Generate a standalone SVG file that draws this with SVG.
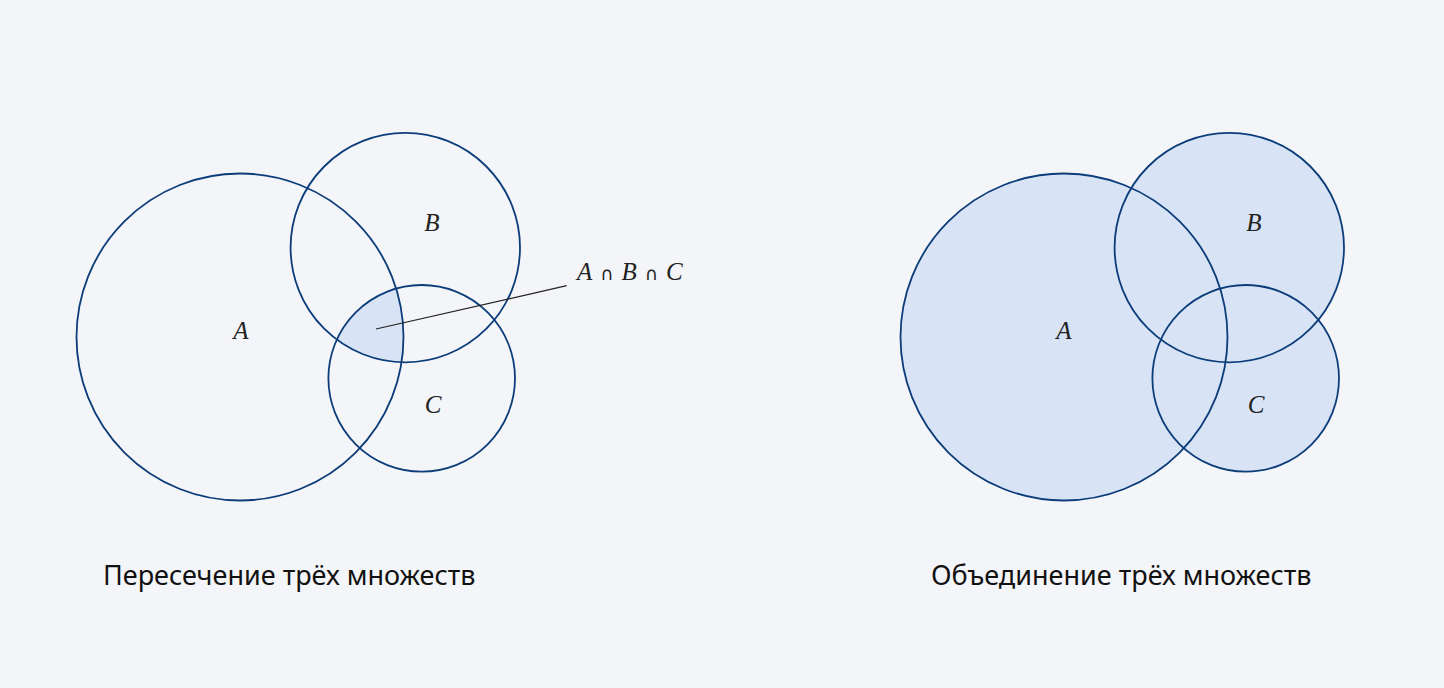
<svg xmlns="http://www.w3.org/2000/svg" width="1444" height="688" viewBox="0 0 1444 688">
<style>
.ring{fill:none;stroke:#0c3d7a;stroke-width:1.8}
.fill{fill:#d8e3f5;stroke:none}
.m{font-family:"Liberation Serif",serif;font-style:italic;font-size:25px;fill:#222;text-anchor:middle}
.cap{font-family:"Noto Sans",sans-serif;font-size:27px;fill:#111}
</style>
<defs>
<clipPath id="clipA"><circle cx="240" cy="337" r="163.5"/></clipPath>
<clipPath id="clipB"><circle cx="405.3" cy="247.6" r="114.7"/></clipPath>
</defs>
<rect width="1444" height="688" fill="#f4f5f8"/>
<g id="left">
<g id="inter" clip-path="url(#clipA)"><circle class="fill" cx="421.7" cy="378.3" r="93.3" clip-path="url(#clipB)"/></g>
<g id="setA1"><circle class="ring" cx="240" cy="337" r="163.5"/><text class="m" x="241" y="339">A</text></g>
<g id="setB1"><circle class="ring" cx="405.3" cy="247.6" r="114.7"/><text class="m" x="432" y="231">B</text></g>
<g id="setC1"><circle class="ring" cx="421.7" cy="378.3" r="93.3"/><text class="m" x="433" y="413">C</text></g>
<g id="connectors"><line x1="376" y1="329" x2="566.7" y2="285.7" stroke="#222" stroke-width="1.2"/></g>
<g id="label"><text x="577" y="280" font-family="Liberation Serif,serif" font-size="25" fill="#222"><tspan font-style="italic">A</tspan><tspan dx="8" font-family="DejaVu Sans,sans-serif" font-size="18">∩</tspan><tspan dx="8" font-style="italic">B</tspan><tspan dx="8" font-family="DejaVu Sans,sans-serif" font-size="18">∩</tspan><tspan dx="8" font-style="italic">C</tspan></text></g>
<text id="cap1" class="cap" x="103" y="585">Пересечение трёх множеств</text>
</g>
<g id="right">
<g id="unionfill"><circle class="fill" cx="1064" cy="337" r="163.5"/><circle class="fill" cx="1229.3" cy="247.6" r="114.7"/><circle class="fill" cx="1245.7" cy="378.3" r="93.3"/></g>
<g id="setA2"><circle class="ring" cx="1064" cy="337" r="163.5"/><text class="m" x="1064" y="339">A</text></g>
<g id="setB2"><circle class="ring" cx="1229.3" cy="247.6" r="114.7"/><text class="m" x="1254" y="231">B</text></g>
<g id="setC2"><circle class="ring" cx="1245.7" cy="378.3" r="93.3"/><text class="m" x="1256" y="413">C</text></g>
<text id="cap2" class="cap" x="931" y="585">Объединение трёх множеств</text>
</g>
</svg>
